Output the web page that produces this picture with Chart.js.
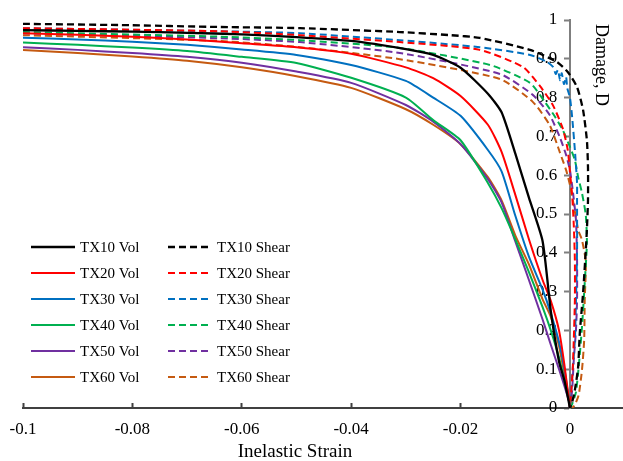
<!DOCTYPE html>
<html>
<head>
<meta charset="utf-8">
<script src="https://cdn.jsdelivr.net/npm/chart.js@4.4.1/dist/chart.umd.min.js"></script>
<style>
	body { margin: 0; background: #fff; }
	#wrap { width: 623px; height: 461px; }
</style>
</head>
<body>
<div id="wrap"><canvas id="chartDamage" width="623" height="461"></canvas></div>
<script>
// inelastic strain grid shared by the volumetric curves
const strain = [-0.1, -0.09, -0.08, -0.07, -0.06, -0.05, -0.04, -0.03, -0.025, -0.02, -0.015, -0.0125, -0.01, -0.0075, -0.005, -0.0035, -0.002, -0.001, 0];
const tx10Vol = [0.974, 0.972, 0.970, 0.967, 0.963, 0.956, 0.946, 0.925, 0.91, 0.877, 0.81, 0.762, 0.656, 0.542, 0.43, 0.25, 0.12, 0.07, 0];
const tx20Vol = [0.966, 0.962, 0.957, 0.950, 0.940, 0.930, 0.913, 0.878, 0.85, 0.804, 0.73, 0.66, 0.55, 0.435, 0.33, 0.276, 0.2, 0.11, 0];
const tx30Vol = [0.954, 0.950, 0.944, 0.936, 0.924, 0.91, 0.884, 0.843, 0.80, 0.753, 0.665, 0.61, 0.496, 0.39, 0.305, 0.244, 0.17, 0.10, 0];
const tx40Vol = [0.942, 0.936, 0.929, 0.92, 0.905, 0.889, 0.851, 0.80, 0.742, 0.69, 0.58, 0.515, 0.435, 0.35, 0.26, 0.2, 0.13, 0.07, 0.01];
const tx50Vol = [0.930, 0.923, 0.915, 0.905, 0.89, 0.867, 0.838, 0.781, 0.738, 0.68, 0.59, 0.53, 0.43, 0.33, 0.228, 0.163, 0.10, 0.056, 0.01];
const tx60Vol = [0.923, 0.915, 0.906, 0.895, 0.878, 0.855, 0.825, 0.77, 0.73, 0.68, 0.595, 0.535, 0.445, 0.37, 0.28, 0.235, 0.16, 0.086, 0.008];

// shear curves bend past zero strain, so each has its own strain list
const tx10ShearX = [-0.1, -0.0823, -0.064, -0.0494, -0.0311, -0.0219, -0.0165, -0.0073, -0.0024, -0.0004, 0.0013, 0.0024, 0.0031, 0.0033, 0.0033, 0.0031, 0.0029, 0.0024, 0.0018, 0.0015, 0.0009, 0.0004, 0];
const tx10ShearD = [0.990, 0.987, 0.982, 0.979, 0.969, 0.961, 0.954, 0.923, 0.892, 0.866, 0.827, 0.768, 0.69, 0.62, 0.536, 0.46, 0.407, 0.296, 0.193, 0.106, 0.046, 0.015, 0];
const tx20ShearX = [-0.1, -0.064, -0.0494, -0.0311, -0.0165, -0.0086, -0.0055, -0.0031, -0.0013, -0.0004, 0, 0.0004, 0.0007, 0.0009, 0.0009, 0.0007, 0.0005, 0.0002, 0];
const tx20ShearD = [0.979, 0.971, 0.961, 0.943, 0.923, 0.879, 0.83, 0.78, 0.72, 0.665, 0.608, 0.549, 0.472, 0.381, 0.278, 0.175, 0.098, 0.034, 0];
const tx30ShearX = [-0.1, -0.064, -0.0494, -0.0311, -0.0165, -0.0073, -0.0042, -0.0031, -0.0026, -0.0022, -0.0018, -0.0015, -0.0011, -0.0007, -0.0005, 0, 0.0004, 0.0009, 0.0013, 0.0013, 0.0013, 0.0011, 0.0009, 0.0005, 0.0002, 0];
const tx30ShearD = [0.979, 0.971, 0.966, 0.948, 0.93, 0.91, 0.892, 0.879, 0.861, 0.871, 0.845, 0.863, 0.835, 0.853, 0.825, 0.80, 0.75, 0.665, 0.58, 0.536, 0.407, 0.278, 0.175, 0.098, 0.034, 0.008];
const tx40ShearX = [-0.1, -0.064, -0.0494, -0.0311, -0.0146, -0.0073, -0.0046, -0.0027, -0.0013, 0, 0.0009, 0.0015, 0.0022, 0.0029, 0.0031, 0.0027, 0.0022, 0.0016, 0.0011, 0.0004, 0];
const tx40ShearD = [0.969, 0.957, 0.948, 0.928, 0.884, 0.838, 0.789, 0.75, 0.716, 0.673, 0.639, 0.595, 0.554, 0.497, 0.425, 0.322, 0.209, 0.106, 0.041, 0.01, 0];
const tx50ShearX = [-0.1, -0.064, -0.0494, -0.0311, -0.0128, -0.0068, -0.0037, -0.0018, -0.0007, 0, 0.0005, 0.0011, 0.0013, 0.0013, 0.0011, 0.0007, 0.0004, 0];
const tx50ShearD = [0.966, 0.953, 0.943, 0.915, 0.861, 0.807, 0.755, 0.696, 0.652, 0.613, 0.562, 0.485, 0.381, 0.278, 0.201, 0.124, 0.046, 0];
const tx60ShearX = [-0.1, -0.064, -0.0494, -0.0311, -0.0128, -0.0068, -0.0037, -0.0018, -0.0007, 0, 0.0007, 0.0015, 0.0022, 0.0029, 0.0027, 0.0026, 0.0022, 0.0016, 0.0009, 0.0004];
const tx60ShearD = [0.961, 0.946, 0.93, 0.899, 0.848, 0.789, 0.729, 0.657, 0.613, 0.575, 0.523, 0.459, 0.433, 0.376, 0.278, 0.175, 0.098, 0.034, 0.008, 0];

const xTicks = [-0.1, -0.08, -0.06, -0.04, -0.02, 0];
const yTicks = [0, 0.1, 0.2, 0.3, 0.4, 0.5, 0.6, 0.7, 0.8, 0.9, 1];
const xTitle = 'Inelastic Strain';
const yTitle = 'Damage, D';

function series(label, xs, ys, color, dashed) {
	return {
		label: label,
		data: xs.map((x, i) => ({ x: x, y: ys[i] })),
		borderColor: color,
		backgroundColor: color,
		borderWidth: color === '#000000' ? 2.3 : 2,
		borderDash: dashed ? [7, 4] : [],
		showLine: true,
		pointRadius: 0,
		tension: 0.2,
		fill: false
	};
}

// two column legend in the lower left of the plot
const legendPlugin = {
	id: 'twoColLegend',
	afterDatasetsDraw(chart) {
		const { ctx, chartArea } = chart;
		ctx.save();
		ctx.font = '15px "Liberation Serif"';
		ctx.textBaseline = 'middle';
		ctx.textAlign = 'left';
		chart.data.datasets.forEach((ds, i) => {
			const col = i < 6 ? 0 : 1;
			const row = i % 6;
			const x = chartArea.left + 8 + col * 137;
			const y = chartArea.top + 227 + row * 26;
			ctx.beginPath();
			ctx.setLineDash(ds.borderDash);
			ctx.strokeStyle = ds.borderColor;
			ctx.lineWidth = ds.borderWidth;
			ctx.moveTo(x, y);
			ctx.lineTo(x + 44, y);
			ctx.stroke();
			ctx.setLineDash([]);
			ctx.fillStyle = '#000';
			ctx.fillText(ds.label, x + 49, y + 1);
		});
		ctx.restore();
	}
};

// axis titles: y title sits inside the plot right of the zero axis,
// x title is centred a bit left of the plot centre as in the source figure
const titlePlugin = {
	id: 'axisTitles',
	afterDraw(chart) {
		const { ctx, chartArea, scales } = chart;
		ctx.save();
		ctx.fillStyle = '#000';
		ctx.font = '19px "Liberation Serif"';
		ctx.textAlign = 'center';
		ctx.textBaseline = 'middle';
		ctx.fillText(xTitle, chartArea.left + 272, chartArea.bottom + 44);
		ctx.font = '18px "Liberation Serif"';
		ctx.textAlign = 'left';
		ctx.translate(scales.x.getPixelForValue(0) + 31, chartArea.top + 4);
		ctx.rotate(Math.PI / 2);
		ctx.fillText(yTitle, 0, 0);
		ctx.restore();
	}
};

Chart.defaults.font.family = "'Liberation Serif', 'Times New Roman', serif";
Chart.defaults.color = '#000';

new Chart(document.getElementById('chartDamage'), {
	type: 'scatter',
	data: {
		datasets: [
			series('TX10 Vol', strain, tx10Vol, '#000000', false),
			series('TX20 Vol', strain, tx20Vol, '#FF0000', false),
			series('TX30 Vol', strain, tx30Vol, '#0070C0', false),
			series('TX40 Vol', strain, tx40Vol, '#00B050', false),
			series('TX50 Vol', strain, tx50Vol, '#7030A0', false),
			series('TX60 Vol', strain, tx60Vol, '#C55A11', false),
			series('TX10 Shear', tx10ShearX, tx10ShearD, '#000000', true),
			series('TX20 Shear', tx20ShearX, tx20ShearD, '#FF0000', true),
			series('TX30 Shear', tx30ShearX, tx30ShearD, '#0070C0', true),
			series('TX40 Shear', tx40ShearX, tx40ShearD, '#00B050', true),
			series('TX50 Shear', tx50ShearX, tx50ShearD, '#7030A0', true),
			series('TX60 Shear', tx60ShearX, tx60ShearD, '#C55A11', true)
		]
	},
	options: {
		responsive: false,
		animation: false,
		events: [],
		layout: { padding: { left: 23, top: 20, right: 0, bottom: 0 } },
		plugins: {
			legend: { display: false },
			tooltip: { enabled: false }
		},
		scales: {
			x: {
				type: 'linear',
				min: -0.1,
				max: 0.0097,
				afterBuildTicks: s => { s.ticks = xTicks.map(v => ({ value: v })); },
				afterFit: s => { s.height = 53; },
				ticks: {
					callback: v => String(+v.toFixed(3)),
					font: { size: 17, lineHeight: 2.82 },
					color: '#000',
					padding: 3,
					maxRotation: 0,
					autoSkip: false
				},
				grid: { drawOnChartArea: false, drawTicks: true, tickLength: -5, tickColor: '#404040', tickWidth: 2 },
				border: { color: '#404040', width: 2 }
			},
			y: {
				type: 'linear',
				min: 0,
				max: 1,
				position: { x: 0 },
				afterBuildTicks: s => { s.ticks = yTicks.map(v => ({ value: v })); },
				ticks: {
					// labels are right aligned on the axis line, pad them off it
					callback: v => String(+v.toFixed(1)) + '\u00a0\u00a0\u00a0',
					font: { size: 17 },
					color: '#000'
				},
				grid: { drawOnChartArea: false, drawTicks: true, tickLength: 5, tickColor: '#7f7f7f', tickWidth: 2 },
				border: { color: '#7f7f7f', width: 2 }
			}
		}
	},
	plugins: [legendPlugin, titlePlugin]
});
</script>
</body>
</html>
